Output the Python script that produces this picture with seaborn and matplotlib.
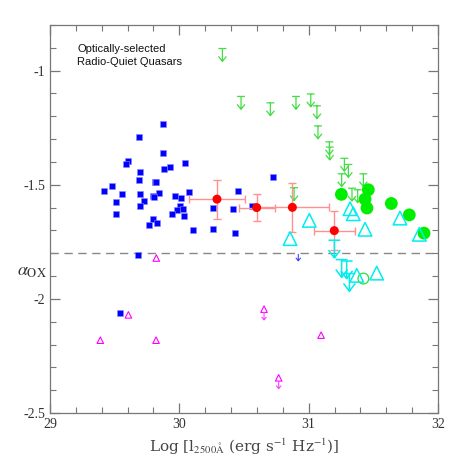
import numpy as np
import pandas as pd
import matplotlib
matplotlib.use("Agg")
import matplotlib.pyplot as plt
from matplotlib.path import Path
from matplotlib.ticker import MultipleLocator
import seaborn as sns

# blue squares: detections
blue_x = [29.876, 29.688, 29.874, 29.603, 29.585, 30.046, 29.925, 29.881, 29.696, 29.686,
          29.808, 29.816, 29.415, 29.482, 29.554, 29.693, 29.843, 29.799, 29.807, 29.964,
          30.015, 30.075, 29.724, 29.513, 29.696, 30.008, 30.031, 29.982, 29.943, 30.034,
          29.510, 29.794, 29.768, 29.830, 30.106, 30.260, 30.260, 30.418, 30.451, 30.433,
          30.562, 29.678, 30.722, 29.544]
blue_y = [-1.233, -1.292, -1.362, -1.397, -1.408, -1.403, -1.421, -1.429, -1.443, -1.477,
          -1.487, -1.490, -1.526, -1.505, -1.540, -1.540, -1.534, -1.548, -1.554, -1.549,
          -1.558, -1.531, -1.571, -1.577, -1.593, -1.595, -1.607, -1.611, -1.626, -1.635,
          -1.628, -1.649, -1.678, -1.669, -1.697, -1.692, -1.601, -1.605, -1.529, -1.712,
          -1.592, -1.806, -1.467, -2.063]
blue_lim_x = [30.920]
blue_lim_y = [-1.790]

# red binned means
red_x = [30.291, 30.598, 30.874, 31.198]
red_y = [-1.563, -1.600, -1.599, -1.701]
red_xerr = [0.22, 0.14, 0.28, 0.157]
red_yerr = [0.085, 0.06, 0.108, 0.086]

# green
green_x = [31.253, 31.461, 31.436, 31.451, 31.639, 31.778, 31.892]
green_y = [-1.542, -1.522, -1.563, -1.602, -1.582, -1.632, -1.712]
green_open_x = [31.423]
green_open_y = [-1.911]
green_lim_x = [30.333, 30.477, 30.704, 30.902, 31.016, 31.064, 31.072, 31.160,
               31.163, 31.276, 31.307, 31.255, 31.423, 30.887, 31.335, 31.379]
green_lim_y = [-0.903, -1.113, -1.141, -1.113, -1.102, -1.154, -1.242, -1.312,
               -1.335, -1.384, -1.411, -1.452, -1.452, -1.513, -1.515, -1.522]

# cyan
cyan_x = [31.005, 30.856, 31.320, 31.345, 31.436, 31.706, 31.856, 31.372, 31.526]
cyan_y = [-1.656, -1.736, -1.605, -1.627, -1.695, -1.646, -1.717, -1.897, -1.887]
cyan_lim_x = [31.199, 31.255, 31.294, 31.315]
cyan_lim_y = [-1.743, -1.828, -1.834, -1.889]

# magenta
mag_x = [29.822, 29.606, 29.389, 29.820, 31.096, 30.655, 30.768]
mag_y = [-1.821, -2.070, -2.181, -2.181, -2.159, -2.045, -2.346]
mag_lim_x = [30.655, 30.768]
mag_lim_y = [-2.045, -2.346]


def limit_marker(bar, length, vw, vh, start=0.0):
    # bar at the value, stem down, arrowhead at the bottom
    verts = []
    codes = []
    if bar > 0:
        verts += [(-bar, 0), (bar, 0)]
        codes += [Path.MOVETO, Path.LINETO]
    verts += [(0, -start), (0, -length)]
    codes += [Path.MOVETO, Path.LINETO]
    verts += [(-vw, -length + vh), (0, -length), (vw, -length + vh)]
    codes += [Path.MOVETO, Path.LINETO, Path.LINETO]
    return Path(verts, codes)


sns.set_style("ticks")
plt.rcParams['font.family'] = ['Liberation Serif', 'DejaVu Serif']
plt.rcParams['mathtext.fontset'] = 'stix'

fig = plt.figure(figsize=(4.63, 4.63), dpi=100)
ax = fig.add_axes([0.108, 0.108, 0.838, 0.838])

ax.axhline(-1.8, color='#888888', lw=1, ls=(0, (6, 4)), zorder=1)

sns.scatterplot(x=blue_x, y=blue_y, ax=ax, marker='s', color='#0000ff', s=24,
                edgecolor='#8888ff', linewidth=0.4, zorder=3)
sns.scatterplot(x=blue_lim_x, y=blue_lim_y, ax=ax, marker=limit_marker(0, 10, 2.5, 3, start=3),
                s=200, facecolors='none', edgecolors='#4444ff', linewidth=0.8, zorder=3)

ax.errorbar(red_x, red_y, xerr=red_xerr, yerr=red_yerr, fmt='none', ecolor='#ff9090',
            elinewidth=1, capsize=3, capthick=1, zorder=4)
sns.scatterplot(x=red_x, y=red_y, ax=ax, color='#ff0000', s=42, edgecolor='none', zorder=5)

sns.scatterplot(x=green_x, y=green_y, ax=ax, color='#00ee00', s=85, edgecolor='none', zorder=4)
sns.scatterplot(x=green_open_x, y=green_open_y, ax=ax, marker='o', s=60, facecolors='none',
                edgecolors='#33dd33', linewidth=0.9, zorder=4)
sns.scatterplot(x=green_lim_x, y=green_lim_y, ax=ax, marker=limit_marker(4, 13, 4, 5),
                s=340, facecolors='none', edgecolors='#44dd44', linewidth=0.9, zorder=3)

sns.scatterplot(x=cyan_x, y=cyan_y, ax=ax, marker='^', s=95, facecolors='none',
                edgecolors='#00eeee', linewidth=1.1, zorder=4)
sns.scatterplot(x=cyan_lim_x, y=cyan_lim_y, ax=ax, marker=limit_marker(6, 18, 6, 8),
                s=650, facecolors='none', edgecolors='#00eeee', linewidth=1.1, zorder=4)

sns.scatterplot(x=mag_x, y=mag_y, ax=ax, marker='^', s=22, facecolors='none',
                edgecolors='#ff00ff', linewidth=0.8, zorder=4)
sns.scatterplot(x=mag_lim_x, y=mag_lim_y, ax=ax, marker=limit_marker(0, 11, 2.5, 3, start=3),
                s=240, facecolors='none', edgecolors='#ff44ff', linewidth=0.8, zorder=4)

ax.set_xlim(29, 32)
ax.set_ylim(-2.5, -0.8)
ax.xaxis.set_minor_locator(MultipleLocator(0.2))
ax.yaxis.set_minor_locator(MultipleLocator(0.1))
ax.set_xticks([29, 30, 31, 32])
ax.set_xticklabels(['29', '30', '31', '32'])
ax.set_yticks([-2.5, -2, -1.5, -1])
ax.set_yticklabels(['-2.5', '-2', '-1.5', '-1'])
ax.tick_params(which='both', direction='in', top=True, right=True, colors='#777777',
               labelcolor='#333333', labelsize=10)
ax.tick_params(which='major', length=7, width=0.9)
ax.tick_params(which='minor', length=4, width=0.8)
for sp in ax.spines.values():
    sp.set_color('#777777')
    sp.set_linewidth(0.9)

ax.set_xlabel('Log [l$_{2500\\mathrm{\\AA}}$ (erg s$^{-1}$ Hz$^{-1}$)]', fontsize=11,
              family=['DejaVu Serif'], color='#444444', labelpad=4)
ax.set_ylabel(r'$\alpha_{\mathrm{OX}}$', fontsize=13, color='#333333', rotation=0,
              va='center', ha='center')
ax.yaxis.set_label_coords(-0.047, 0.365)

ax.text(0.07, 0.95, 'Optically-selected\nRadio-Quiet Quasars', transform=ax.transAxes,
        ha='left', va='top', fontsize=8,
        family=['Liberation Sans', 'DejaVu Sans'], color='#111111', linespacing=1.35)

fig.savefig('out.png', dpi=100)
